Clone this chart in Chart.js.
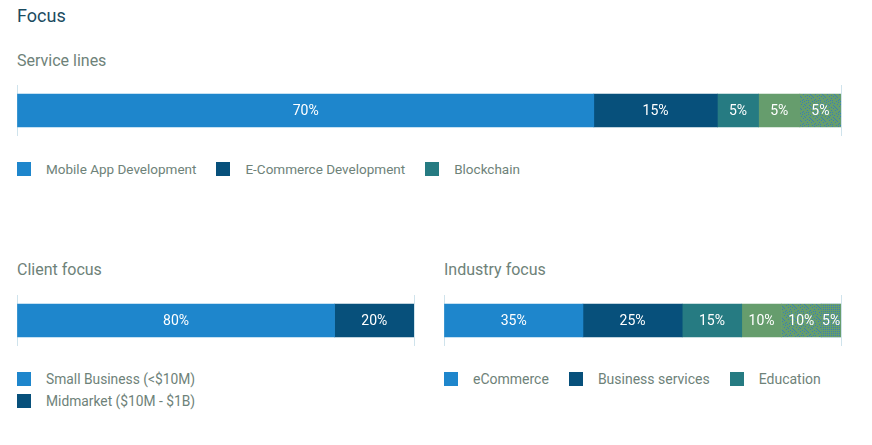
<!DOCTYPE html>
<html>
<head>
<meta charset="utf-8">
<script src="https://cdn.jsdelivr.net/npm/chart.js@4.4.1/dist/chart.umd.min.js"></script>
<style>
  html, body { margin:0; padding:0; background:#fff; width:872px; height:445px; overflow:hidden; font-family: Roboto, "Noto Sans", sans-serif; }
  .abs { position:absolute; white-space:nowrap; }
  .title { font-size:18px; line-height:18px; color:#1b4b5f; }
  .sub { font-size:16px; line-height:16px; color:#6e8279; }
  canvas.c { position:absolute; }
  .legend { position:absolute; display:flex; font-size:13.5px; line-height:14px; color:#6e8279; }
  .legend.col { flex-direction:column; }
  .item { display:flex; align-items:center; height:14px; }
  .sw { width:14px; height:14px; margin-right:15px; flex:none; }
  .legend.row .item { margin-right:20px; }
  .legend.col .item { margin-bottom:8px; }
</style>
</head>
<body>
<div class="abs title" style="left:17px; top:7px;">Focus</div>
<div class="abs sub" style="left:17px; top:53px;">Service lines</div>
<div class="abs sub" style="left:17px; top:262px;">Client focus</div>
<div class="abs sub" style="left:444px; top:262px;">Industry focus</div>

<canvas id="service" class="c" width="826" height="52" style="left:16px; top:84px;"></canvas>
<canvas id="client" class="c" width="399" height="51" style="left:16px; top:295px;"></canvas>
<canvas id="industry" class="c" width="399" height="51" style="left:443px; top:295px;"></canvas>

<div id="serviceLegend" class="legend row" style="left:17px; top:162px; font-size:13.5px;"></div>
<div id="clientLegend" class="legend col" style="left:17px; top:372px; font-size:13.8px;"></div>
<div id="industryLegend" class="legend row" style="left:444px; top:372px; font-size:14px;"></div>

<script>
// ---- data ----
const serviceCategories = ['Mobile App Development', 'E-Commerce Development', 'Blockchain', 'Other', 'Other'];
const serviceValues = [70, 15, 5, 5, 5];
const serviceLegendCount = 3;

const clientCategories = ['Small Business (<$10M)', 'Midmarket ($10M - $1B)'];
const clientValues = [80, 20];
const clientLegendCount = 2;

const industryCategories = ['eCommerce', 'Business services', 'Education', 'Other', 'Other', 'Other'];
const industryValues = [35, 25, 15, 10, 10, 5];
const industryLegendCount = 3;

// ---- styles ----
const BLUE = '#1e86cc', NAVY = '#07507b', TEAL = '#267b82', GREEN = '#669d6d', DOT = '#3a7fb4';

function makePattern(type) {
  const c = document.createElement('canvas');
  c.width = 12; c.height = 12;
  const g = c.getContext('2d');
  g.fillStyle = GREEN; g.fillRect(0, 0, 12, 12);
  g.fillStyle = DOT;
  if (type === 'grid') {
    for (let x = 0; x < 12; x += 2) for (let y = 0; y < 12; y += 2) g.fillRect(x, y, 1, 1);
  } else {
    const pts = [[1,0],[5,1],[9,0],[3,2],[7,3],[11,2],[0,4],[4,5],[8,5],[2,7],[6,6],[10,7],[1,9],[5,8],[9,9],[3,11],[7,10],[11,11],[0,6],[6,4],[10,4],[2,10],[8,8],[4,0]];
    pts.forEach(p => g.fillRect(p[0], p[1], 1, 1));
  }
  return g.createPattern(c, 'repeat');
}
const scatter = makePattern('scatter');
const grid = makePattern('grid');

const serviceColors = [BLUE, NAVY, TEAL, GREEN, scatter];
const clientColors = [BLUE, NAVY];
const industryColors = [BLUE, NAVY, TEAL, GREEN, scatter, grid];

const labelPlugin = {
  id: 'segLabels',
  afterDatasetsDraw(chart) {
    const ctx = chart.ctx;
    ctx.save();
    ctx.font = '14px Roboto';
    ctx.fillStyle = '#ffffff';
    ctx.textAlign = 'center';
    ctx.textBaseline = 'alphabetic';
    chart.data.datasets.forEach((ds, i) => {
      chart.getDatasetMeta(i).data.forEach((el, j) => {
        const p = el.getProps(['x', 'y', 'base'], true);
        ctx.fillText(ds.data[j] + '%', (p.x + p.base) / 2, p.y + 4.5);
      });
    });
    ctx.restore();
  }
};

function makeChart(id, cats, vals, colors, thickness, pad) {
  new Chart(document.getElementById(id), {
    type: 'bar',
    data: {
      labels: [''],
      datasets: cats.map((c, i) => ({
        label: c, data: [vals[i]], backgroundColor: colors[i],
        borderWidth: 0, barThickness: thickness
      }))
    },
    options: {
      indexAxis: 'y',
      responsive: false,
      animation: false,
      layout: { padding: pad },
      plugins: { legend: { display: false }, tooltip: { enabled: false } },
      scales: {
        x: {
          stacked: true, min: 0, max: 100,
          ticks: { display: false, stepSize: 100 },
          grid: { color: '#cfe3ec', drawTicks: false, lineWidth: 1 },
          border: { display: false }
        },
        y: { stacked: true, display: false }
      }
    },
    plugins: [labelPlugin]
  });
}

makeChart('service', serviceCategories, serviceValues, serviceColors, 33, { left: 1, right: 1, top: 1, bottom: 0 });
makeChart('client', clientCategories, clientValues, clientColors, 33, { left: 1, right: 1, top: 0, bottom: 0 });
makeChart('industry', industryCategories, industryValues, industryColors, 33, { left: 1, right: 1, top: 0, bottom: 0 });

function buildLegend(id, cats, colors, count) {
  const el = document.getElementById(id);
  for (let i = 0; i < count; i++) {
    const it = document.createElement('div'); it.className = 'item';
    const sw = document.createElement('div'); sw.className = 'sw'; sw.style.background = colors[i];
    const tx = document.createElement('span'); tx.textContent = cats[i];
    it.appendChild(sw); it.appendChild(tx); el.appendChild(it);
  }
}
buildLegend('serviceLegend', serviceCategories, serviceColors, serviceLegendCount);
buildLegend('clientLegend', clientCategories, clientColors, clientLegendCount);
buildLegend('industryLegend', industryCategories, industryColors, industryLegendCount);
</script>
</body>
</html>
